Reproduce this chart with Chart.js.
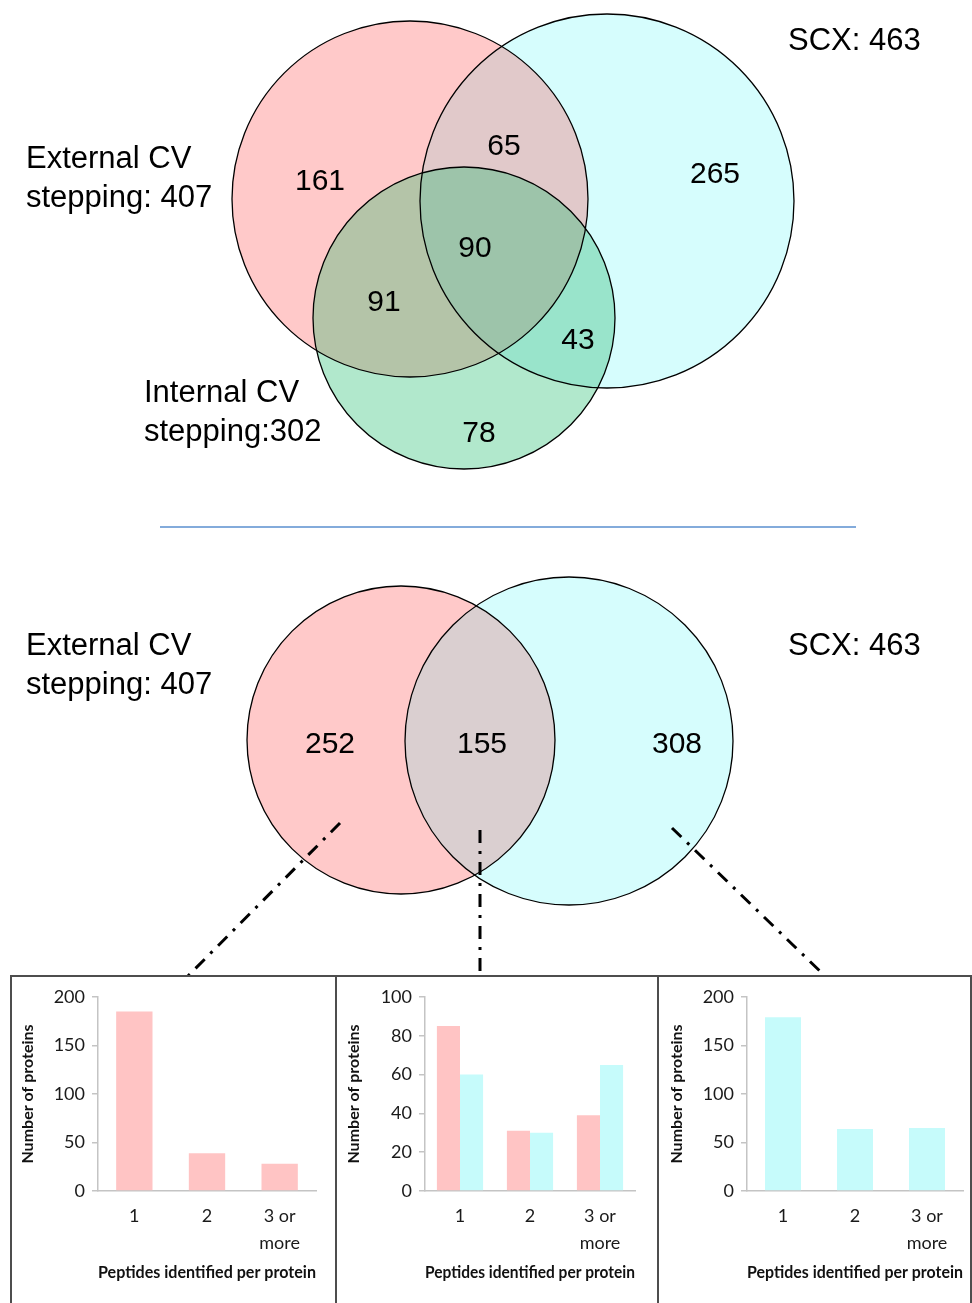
<!DOCTYPE html>
<html>
<head>
<meta charset="utf-8">
<script src="https://cdn.jsdelivr.net/npm/chart.js@4.4.1/dist/chart.umd.min.js"></script>
<style>
    html, body { margin: 0; padding: 0; background: #fff; }
    body { width: 972px; height: 1303px; position: relative; overflow: hidden; }
    #vennCanvas { position: absolute; left: 0; top: 0; }
    .panel { position: absolute; top: 975px; height: 332px; box-sizing: border-box; border: 2px solid #4d4d4d; background: #fff; }
    .panel canvas { display: block; }
</style>
</head>
<body>
<canvas id="vennCanvas" width="972" height="977"></canvas>
<div class="panel" style="left:10px;width:327px;"><canvas id="chart1" width="323" height="328"></canvas></div>
<div class="panel" style="left:335px;width:324px;"><canvas id="chart2" width="320" height="328"></canvas></div>
<div class="panel" style="left:657px;width:315px;"><canvas id="chart3" width="311" height="328"></canvas></div>

<script>
// --- data ---
const venn3SetNames = [['External CV', 'stepping: 407'], ['SCX: 463'], ['Internal CV', 'stepping:302']];
const venn3Regions = ['A', 'AB', 'B', 'AC', 'ABC', 'BC', 'C'];
const venn3Counts = [161, 65, 265, 91, 90, 43, 78];

const venn2SetNames = [['External CV', 'stepping: 407'], ['SCX: 463']];
const venn2Regions = ['A', 'AB', 'B'];
const venn2Counts = [252, 155, 308];

const peptideCategories = ['1', '2', ['3 or', 'more']];
const externalOnlyCounts = [185, 39, 28];
const sharedExternalCounts = [85, 31, 39];
const sharedScxCounts = [60, 30, 65];
const scxOnlyCounts = [179, 64, 65];

// --- layout of the venn drawing (page pixels) ---
const venn3Circles = { A: { x: 410, y: 199, r: 178 }, B: { x: 607, y: 201, r: 187 }, C: { x: 464, y: 318, r: 151 } };
const venn3RegionColors = { A: '#ffc9c9', B: '#d6fdfd', C: '#b1e8cc', AB: '#e1c9ca', AC: '#b4c4a8', BC: '#99e4cb', ABC: '#9dc4aa' };
const venn3CountPos = { A: [320, 182], AB: [504, 147], B: [715, 175], AC: [384, 303], ABC: [475, 249], BC: [578, 341], C: [479, 434] };
const venn3NamePos = [[26, 159], [788, 41], [144, 393]];

const venn2Circles = { A: { x: 401, y: 740, r: 154 }, B: { x: 569, y: 741, r: 164 } };
const venn2RegionColors = { A: '#ffc9c9', B: '#d6fdfd', AB: '#dacfd0' };
const venn2CountPos = { A: [330, 745], AB: [482, 745], B: [677, 745] };
const venn2NamePos = [[26, 646], [788, 646]];

const separator = [[160, 527], [856, 527]];
const connectors = [[[340, 823], [187, 977]], [[480, 830], [480, 977]], [[672, 828], [826, 977]]];

const PINK = '#ffc4c4';
const CYAN = '#c6fbfb';
const TICK_FONT = 'Lato, "Open Sans", sans-serif';

function drawVenn(ctx, xs, ys, circles, colors, order) {
    const px = c => ({ x: xs.getPixelForValue(c.x), y: ys.getPixelForValue(c.y), r: xs.getPixelForValue(c.x + c.r) - xs.getPixelForValue(c.x) });
    const pathOf = key => {
        const p = px(circles[key]);
        ctx.beginPath();
        ctx.arc(p.x, p.y, p.r, 0, Math.PI * 2);
    };
    // each region: clip to all but the last set, fill the last one
    order.forEach(region => {
        const keys = region.split('');
        ctx.save();
        keys.slice(0, -1).forEach(k => { pathOf(k); ctx.clip(); });
        pathOf(keys[keys.length - 1]);
        ctx.fillStyle = colors[region];
        ctx.fill();
        ctx.restore();
    });
    ctx.lineWidth = 1.3;
    ctx.strokeStyle = '#000';
    Object.keys(circles).forEach(k => { pathOf(k); ctx.stroke(); });
}

function drawLabels(ctx, xs, ys, regions, counts, countPos, names, namePos) {
    ctx.fillStyle = '#000';
    ctx.font = '30px "Liberation Sans", Arial, sans-serif';
    ctx.textAlign = 'center';
    ctx.textBaseline = 'middle';
    regions.forEach((r, i) => {
        const [x, y] = countPos[r];
        ctx.fillText(String(counts[i]), xs.getPixelForValue(x), ys.getPixelForValue(y));
    });
    ctx.font = '31px "Liberation Sans", Arial, sans-serif';
    ctx.textAlign = 'left';
    names.forEach((lines, i) => {
        const [x, y] = namePos[i];
        lines.forEach((line, j) => {
            ctx.fillText(line, xs.getPixelForValue(x), ys.getPixelForValue(y + j * 39));
        });
    });
}

const vennPlugin = {
    id: 'venn',
    afterDatasetsDraw(chart) {
        const { ctx } = chart;
        const xs = chart.scales.x, ys = chart.scales.y;
        ctx.save();
        drawVenn(ctx, xs, ys, venn3Circles, venn3RegionColors, ['A', 'B', 'C', 'AB', 'AC', 'BC', 'ABC']);
        drawLabels(ctx, xs, ys, venn3Regions, venn3Counts, venn3CountPos, venn3SetNames, venn3NamePos);
        drawVenn(ctx, xs, ys, venn2Circles, venn2RegionColors, ['A', 'B', 'AB']);
        drawLabels(ctx, xs, ys, venn2Regions, venn2Counts, venn2CountPos, venn2SetNames, venn2NamePos);

        ctx.strokeStyle = '#5a8fcf';
        ctx.lineWidth = 1.5;
        ctx.beginPath();
        ctx.moveTo(xs.getPixelForValue(separator[0][0]), ys.getPixelForValue(separator[0][1]));
        ctx.lineTo(xs.getPixelForValue(separator[1][0]), ys.getPixelForValue(separator[1][1]));
        ctx.stroke();

        ctx.strokeStyle = '#000';
        ctx.lineWidth = 3;
        ctx.setLineDash([13, 8, 3, 8]);
        connectors.forEach(([a, b]) => {
            ctx.beginPath();
            ctx.moveTo(xs.getPixelForValue(a[0]), ys.getPixelForValue(a[1]));
            ctx.lineTo(xs.getPixelForValue(b[0]), ys.getPixelForValue(b[1]));
            ctx.stroke();
        });
        ctx.restore();
    }
};

new Chart(document.getElementById('vennCanvas'), {
    type: 'scatter',
    data: { datasets: [] },
    options: {
        responsive: false,
        animation: false,
        layout: { padding: 0 },
        plugins: { legend: { display: false }, tooltip: { enabled: false } },
        scales: {
            x: { type: 'linear', min: 0, max: 972, display: false },
            y: { type: 'linear', min: 0, max: 977, reverse: true, display: false }
        }
    },
    plugins: [vennPlugin]
});

// --- bar charts ---
function makeBarChart(id, datasets, yMax, yStep, geom) {
    return new Chart(document.getElementById(id), {
        type: 'bar',
        data: { labels: peptideCategories, datasets },
        options: {
            responsive: false,
            animation: false,
            layout: { padding: { left: 0, right: geom.right, top: 20, bottom: 2 } },
            plugins: { legend: { display: false }, tooltip: { enabled: false } },
            scales: {
                x: {
                    grid: { display: false, drawTicks: false },
                    border: { display: true, color: '#c4c4c4', width: 1.5 },
                    ticks: { color: '#1a1a1a', padding: 12, font: { family: TICK_FONT, size: 18, lineHeight: 1.5 } },
                    title: {
                        display: true,
                        text: 'Peptides identified per protein',
                        color: '#111',
                        font: { family: TICK_FONT, size: 17, weight: 'bold', lineHeight: 1.2 },
                        padding: { top: 0, bottom: 20 }
                    },
                    afterFit: scale => { scale.height = 112; }
                },
                y: {
                    min: 0,
                    max: yMax,
                    grid: { drawOnChartArea: false, drawTicks: true, tickLength: 6, color: '#c4c4c4', lineWidth: 1.5 },
                    border: { display: true, color: '#c4c4c4', width: 1.5 },
                    ticks: { stepSize: yStep, color: '#1a1a1a', padding: 7, font: { family: TICK_FONT, size: 18 } },
                    title: {
                        display: true,
                        text: 'Number of proteins',
                        color: '#111',
                        font: { family: TICK_FONT, size: 16, weight: 'bold', lineHeight: 1.2 },
                        padding: { top: geom.titleX - 9.6, bottom: 0 }
                    },
                    afterFit: scale => { scale.width = geom.left; }
                }
            }
        }
    });
}

makeBarChart('chart1', [
    { label: 'External CV stepping only', data: externalOnlyCounts, backgroundColor: PINK, barPercentage: 1, categoryPercentage: 0.5 }
], 200, 50, { left: 86, right: 19, titleX: 16 });

makeBarChart('chart2', [
    { label: 'External CV stepping', data: sharedExternalCounts, backgroundColor: PINK, barPercentage: 1, categoryPercentage: 0.66 },
    { label: 'SCX', data: sharedScxCounts, backgroundColor: CYAN, barPercentage: 1, categoryPercentage: 0.66 }
], 100, 20, { left: 88, right: 22, titleX: 17 });

makeBarChart('chart3', [
    { label: 'SCX only', data: scxOnlyCounts, backgroundColor: CYAN, barPercentage: 1, categoryPercentage: 0.5 }
], 200, 50, { left: 88, right: 7, titleX: 18 });
</script>
</body>
</html>
